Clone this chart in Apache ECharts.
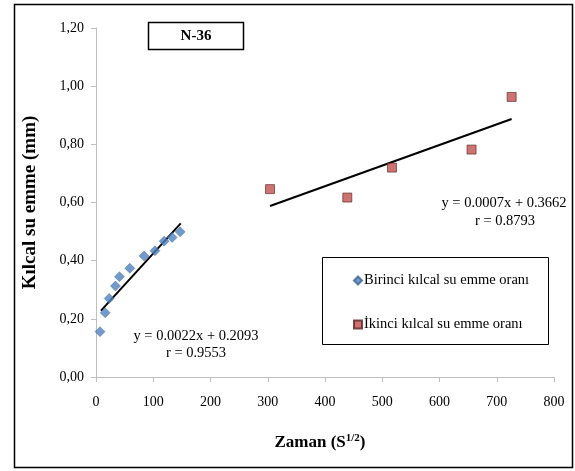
<!DOCTYPE html>
<html>
<head>
<meta charset="utf-8">
<script src="https://cdn.jsdelivr.net/npm/echarts@6/dist/echarts.min.js"></script>
<style>
  html, body { margin: 0; padding: 0; background: #fff; }
  #chart { width: 575px; height: 471px; }
</style>
</head>
<body>
<div id="chart"></div>
<script>
const FONT = '"Liberation Serif", "Times New Roman", serif';

// first capillary absorption (x = sqrt time, y = mm)
const birinciX = [7, 16, 23, 34, 41, 59, 84, 103, 119, 133, 147];
const birinciY = [0.156, 0.221, 0.270, 0.313, 0.345, 0.374, 0.416, 0.434, 0.467, 0.480, 0.499];
// second capillary absorption
const ikinciX = [304, 439, 517, 656, 726];
const ikinciY = [0.646, 0.617, 0.720, 0.782, 0.963];
// trend line end points as drawn
const birinciTrend = [[8.7, 0.228], [148, 0.528]];
const ikinciTrend = [[304, 0.588], [726, 0.887]];

const xTicks = [0, 800, 100];
const yTicks = [0, 1.2, 0.2];

const zip = (xs, ys) => xs.map((x, i) => [x, ys[i]]);

const plain = (size) => ({ fontFamily: FONT, fontSize: size, fontWeight: 'normal', color: '#000' });

const option = {
  animation: false,
  backgroundColor: '#fff',
  textStyle: { fontFamily: FONT },
  grid: { left: 96, right: 21, top: 28, bottom: 94 },
  xAxis: {
    type: 'value',
    min: xTicks[0], max: xTicks[1], interval: xTicks[2],
    name: 'Zaman (S{sup|1/2})',
    nameLocation: 'middle',
    nameGap: 56,
    nameTextStyle: {
      fontFamily: FONT, fontSize: 17, fontWeight: 'bold', color: '#000',
      padding: [0, 10, 0, 0],
      rich: { sup: { fontFamily: FONT, fontSize: 11, fontWeight: 'bold', verticalAlign: 'top', padding: [0, 0, 8, 0] } }
    },
    axisLine: { lineStyle: { color: '#bfbfbf' } },
    axisTick: { show: true, inside: false, length: 5, lineStyle: { color: '#bfbfbf' } },
    axisLabel: Object.assign(plain(14), { margin: 18 }),
    splitLine: { show: false }
  },
  yAxis: {
    type: 'value',
    min: yTicks[0], max: yTicks[1], interval: yTicks[2],
    name: 'Kılcal su emme (mm)',
    nameLocation: 'middle',
    nameGap: 56,
    nameTextStyle: { fontFamily: FONT, fontSize: 19, fontWeight: 'bold', color: '#000' },
    axisLine: { show: true, lineStyle: { color: '#bfbfbf' } },
    axisTick: { show: true, inside: false, length: 5, lineStyle: { color: '#bfbfbf' } },
    axisLabel: Object.assign(plain(14), {
      margin: 12,
      formatter: v => v.toFixed(2).replace('.', ',')
    }),
    splitLine: { show: false }
  },
  legend: {
    orient: 'vertical',
    left: 348, top: 268,
    itemWidth: 8, itemHeight: 8, itemGap: 29,
    textStyle: Object.assign(plain(14.5), { padding: [0, 0, 0, -3] }),
    data: [
      { name: 'Birinci kılcal su emme oranı', icon: 'diamond' },
      { name: 'İkinci kılcal su emme oranı', icon: 'rect' }
    ]
  },
  series: [
    {
      name: 'Birinci kılcal su emme oranı',
      type: 'scatter',
      symbol: 'diamond',
      symbolSize: 10,
      itemStyle: { color: '#4f81bd', borderColor: '#3a6496', borderWidth: 0.5 },
      data: zip(birinciX, birinciY),
      z: 3
    },
    {
      name: 'İkinci kılcal su emme oranı',
      type: 'scatter',
      symbol: 'rect',
      symbolSize: 9,
      itemStyle: { color: '#c0504d', borderColor: '#5a2222', borderWidth: 0.8 },
      data: zip(ikinciX, ikinciY),
      z: 3
    },
    {
      name: 'trend1', type: 'line', symbol: 'none', silent: true,
      lineStyle: { color: '#000', width: 2 },
      data: birinciTrend, z: 2
    },
    {
      name: 'trend2', type: 'line', symbol: 'none', silent: true,
      lineStyle: { color: '#000', width: 2 },
      data: ikinciTrend, z: 2
    }
  ],
  graphic: [
    // outer frame
    { type: 'rect', shape: { x: 14.5, y: 4.5, width: 558, height: 463 },
      style: { fill: 'none', stroke: '#000', lineWidth: 1.5 }, silent: true },
    // sample tag
    { type: 'rect', shape: { x: 148.5, y: 22.5, width: 95, height: 27 },
      style: { fill: '#fff', stroke: '#000', lineWidth: 1.5 }, silent: true },
    { type: 'text', x: 196, y: 36,
      style: { text: 'N-36', fontFamily: FONT, fontSize: 15, fontWeight: 'bold', fill: '#000', align: 'center', verticalAlign: 'middle' } },
    // legend frame
    { type: 'rect', shape: { x: 322.5, y: 257.5, width: 226, height: 87 },
      style: { fill: 'none', stroke: '#000', lineWidth: 1 }, silent: true, z: -1 },
    // regression labels
    { type: 'text', x: 196, y: 336,
      style: { text: 'y = 0.0022x + 0.2093', fontFamily: FONT, fontSize: 14.5, fill: '#000', align: 'center', verticalAlign: 'middle' } },
    { type: 'text', x: 196, y: 353,
      style: { text: 'r = 0.9553', fontFamily: FONT, fontSize: 14.5, fill: '#000', align: 'center', verticalAlign: 'middle' } },
    { type: 'text', x: 504, y: 203,
      style: { text: 'y = 0.0007x + 0.3662', fontFamily: FONT, fontSize: 14.5, fill: '#000', align: 'center', verticalAlign: 'middle' } },
    { type: 'text', x: 505, y: 221,
      style: { text: 'r = 0.8793', fontFamily: FONT, fontSize: 14.5, fill: '#000', align: 'center', verticalAlign: 'middle' } }
  ]
};

const chart = echarts.init(document.getElementById('chart'));
chart.setOption(option);
window.addEventListener('resize', () => chart.resize());
</script>
</body>
</html>
